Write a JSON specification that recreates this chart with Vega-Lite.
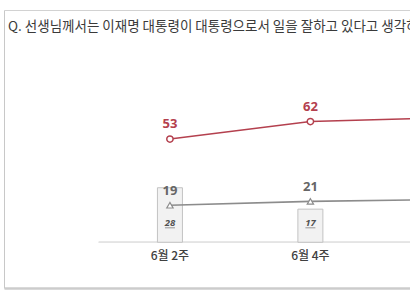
{
  "$schema": "https://vega.github.io/schema/vega-lite/v6.json",
  "autosize": {"type": "none"},
  "width": 406,
  "height": 278,
  "padding": {"left": 4, "top": 10, "right": 0, "bottom": 2},
  "background": "white",
  "config": {"view": {"stroke": null}, "font": "Noto Sans CJK KR"},
  "title": {
    "text": "Q. 선생님께서는 이재명 대통령이 대통령으로서 일을 잘하고 있다고 생각하십니까?",
    "anchor": "start",
    "frame": "group",
    "orient": "top",
    "offset": -17,
    "baseline": "middle",
    "dx": 4,
    "dy": 13,
    "fontSize": 13.5,
    "fontWeight": "normal",
    "font": "Noto Sans CJK KR",
    "color": "#3a3a3a"
  },
  "data": {
    "values": [
      {"week": "6월 2주", "idx": 0, "pos": 53, "neg": 19, "bar": 28},
      {"week": "6월 4주", "idx": 1, "pos": 62, "neg": 21, "bar": 17},
      {"week": "7월 2주", "idx": 2, "pos": 64, "neg": 22, "bar": 14}
    ]
  },
  "layer": [
    {
      "mark": {"type": "rule", "color": "#e4e4e4", "strokeWidth": 1.5, "clip": true},
      "encoding": {
        "x": {"datum": -0.507, "type": "quantitative", "axis": null, "scale": {"domain": [-1.14583, 1.67361], "nice": false, "zero": false}},
        "x2": {"datum": 3},
        "y": {"datum": 0, "type": "quantitative", "scale": {"domain": [-23.5, 119.3], "nice": false, "zero": false},
          "axis": {
            "title": null, "labels": false, "ticks": false, "domain": true, "domainColor": "#c8c8c8", "domainWidth": 1,
            "grid": true, "values": [-23.5, 119.3],
            "gridWidth": {"condition": {"test": "datum.value < 0", "value": 2.5}, "value": 1},
            "gridColor": {"condition": {"test": "datum.value < 0", "value": "#cccccc"}, "value": "#d2d2d2"},
            "gridOpacity": 1
          }
        }
      }
    },
    {
      "mark": {"type": "bar", "size": 25, "fill": "#f2f2f2", "stroke": "#c2c2c2", "strokeWidth": 1, "clip": true},
      "encoding": {
        "x": {"field": "idx", "type": "quantitative", "axis": null},
        "y": {"field": "bar", "type": "quantitative"},
        "y2": {"datum": 0}
      }
    },
    {
      "transform": [{"filter": "datum.idx < 2"}],
      "mark": {"type": "text", "fontSize": 9.5, "fontStyle": "italic", "fontWeight": "bold", "color": "#505050", "font": "Noto Sans", "clip": true},
      "encoding": {
        "x": {"field": "idx", "type": "quantitative", "axis": null},
        "y": {"datum": 10, "type": "quantitative"},
        "text": {"field": "bar", "type": "quantitative"}
      }
    },
    {
      "transform": [{"filter": "datum.idx < 2"}],
      "mark": {"type": "tick", "orient": "horizontal", "size": 10, "thickness": 0.8, "color": "#505050", "clip": true},
      "encoding": {
        "x": {"field": "idx", "type": "quantitative", "axis": null},
        "y": {"datum": 7.4, "type": "quantitative"}
      }
    },
    {
      "mark": {"type": "line", "color": "#8c8c8c", "strokeWidth": 1.6, "clip": true},
      "encoding": {
        "x": {"field": "idx", "type": "quantitative", "axis": null},
        "y": {"field": "neg", "type": "quantitative"}
      }
    },
    {
      "mark": {"type": "line", "color": "#b4404e", "strokeWidth": 1.6, "clip": true},
      "encoding": {
        "x": {"field": "idx", "type": "quantitative", "axis": null},
        "y": {"field": "pos", "type": "quantitative"}
      }
    },
    {
      "mark": {"type": "point", "shape": "triangle-up", "size": 40, "filled": true, "fill": "white", "stroke": "#8c8c8c", "strokeWidth": 1.2, "opacity": 1, "clip": true},
      "encoding": {
        "x": {"field": "idx", "type": "quantitative", "axis": null},
        "y": {"field": "neg", "type": "quantitative"}
      }
    },
    {
      "mark": {"type": "point", "shape": "circle", "size": 40, "filled": true, "fill": "white", "stroke": "#b4404e", "strokeWidth": 1.5, "opacity": 1, "clip": true},
      "encoding": {
        "x": {"field": "idx", "type": "quantitative", "axis": null},
        "y": {"field": "pos", "type": "quantitative"}
      }
    },
    {
      "transform": [{"filter": "datum.idx < 2"}],
      "mark": {"type": "text", "dy": -15, "fontSize": 13, "fontWeight": "bold", "color": "#b4404e", "font": "Noto Sans", "clip": true},
      "encoding": {
        "x": {"field": "idx", "type": "quantitative", "axis": null},
        "y": {"field": "pos", "type": "quantitative"},
        "text": {"field": "pos", "type": "quantitative"}
      }
    },
    {
      "transform": [{"filter": "datum.idx < 2"}],
      "mark": {"type": "text", "dy": -14, "fontSize": 13, "fontWeight": "bold", "color": "#666666", "font": "Noto Sans", "clip": true},
      "encoding": {
        "x": {"field": "idx", "type": "quantitative", "axis": null},
        "y": {"field": "neg", "type": "quantitative"},
        "text": {"field": "neg", "type": "quantitative"}
      }
    },
    {
      "transform": [{"filter": "datum.idx < 2"}],
      "mark": {"type": "text", "fontSize": 12, "fontWeight": 500, "color": "#404040", "font": "Noto Sans CJK KR", "clip": true},
      "encoding": {
        "x": {"field": "idx", "type": "quantitative", "axis": null},
        "y": {"datum": -7.3, "type": "quantitative"},
        "text": {"field": "week", "type": "nominal"}
      }
    }
  ]
}
